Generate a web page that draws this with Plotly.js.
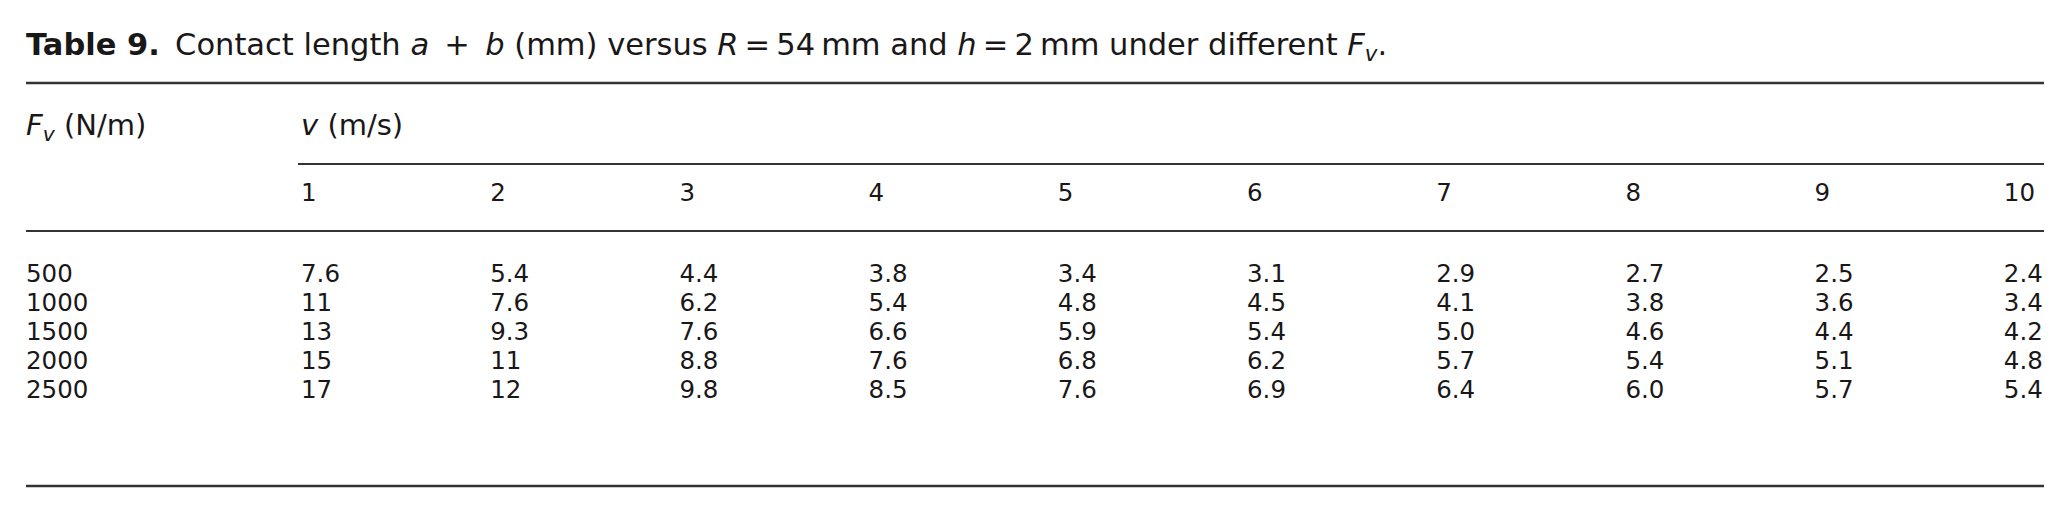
<!DOCTYPE html>
<html>
<head>
<meta charset="utf-8">
<script src="https://cdn.plot.ly/plotly-3.0.1.min.js"></script>
<style>
  html, body { margin: 0; padding: 0; background: #fff; }
  #table9 { width: 2070px; height: 512px; }
</style>
</head>
<body>
<div id="table9"></div>
<script>
// Table 9 data: contact length a + b (mm), rows = Fv (N/m), columns = v (m/s)
var speeds = [1, 2, 3, 4, 5, 6, 7, 8, 9, 10];
var forces = [500, 1000, 1500, 2000, 2500];
var len500 = ["7.6", "5.4", "4.4", "3.8", "3.4", "3.1", "2.9", "2.7", "2.5", "2.4"];
var len1000 = ["11", "7.6", "6.2", "5.4", "4.8", "4.5", "4.1", "3.8", "3.6", "3.4"];
var len1500 = ["13", "9.3", "7.6", "6.6", "5.9", "5.4", "5.0", "4.6", "4.4", "4.2"];
var len2000 = ["15", "11", "8.8", "7.6", "6.8", "6.2", "5.7", "5.4", "5.1", "4.8"];
var len2500 = ["17", "12", "9.8", "8.5", "7.6", "6.9", "6.4", "6.0", "5.7", "5.4"];
var rows = [len500, len1000, len1500, len2000, len2500];

// layout helpers (pixel space)
var W = 2070, H = 512;
var LEFT = 26, RIGHT = 2044;
function colX(i) { return 301 + 189.2 * i; }
function rowY(r) { return 276 + 29 * r; }
var HEAD_Y = 128, NUM_Y = 195;

var ink = "#1a1718";
var family = "'DejaVu Sans', Lato, sans-serif";
var bodyFont = { family: family, size: 24.5, color: ink };
var headFont = { family: family, size: 29, color: ink };
var titleFont = { family: family, size: 30.5, color: ink };

var traces = [];

function textTrace(xs, ys, txt, f) {
  return {
    type: "scatter", mode: "text", hoverinfo: "skip", showlegend: false,
    x: xs, y: ys, text: txt, textposition: "middle right", textfont: f
  };
}

// header row
traces.push(textTrace([LEFT, colX(0)], [HEAD_Y, HEAD_Y],
  ["<i>F<sub>v</sub></i> (N/m)", "<i>v</i> (m/s)"], headFont));

// speed labels
traces.push(textTrace(
  speeds.map(function(v, i) { return colX(i); }),
  speeds.map(function() { return NUM_Y; }),
  speeds.map(String), bodyFont));

// force column
traces.push(textTrace(
  forces.map(function() { return LEFT; }),
  forces.map(function(f, r) { return rowY(r); }),
  forces.map(String), bodyFont));

// value cells
rows.forEach(function(vals, r) {
  traces.push(textTrace(
    vals.map(function(v, i) { return colX(i); }),
    vals.map(function() { return rowY(r); }),
    vals, bodyFont));
});

function rule(x0, x1, y, w) {
  return { type: "line", xref: "x", yref: "y", x0: x0, x1: x1, y0: y, y1: y,
    line: { color: "#333333", width: w } };
}

var sp = "\u2002", thin = "\u2009";
var layout = {
  width: W, height: H,
  margin: { t: 0, b: 0, l: 0, r: 0 },
  paper_bgcolor: "#ffffff", plot_bgcolor: "#ffffff",
  xaxis: { range: [0, W], visible: false, fixedrange: true },
  yaxis: { range: [H, 0], visible: false, fixedrange: true },
  title: {
    text: "<b>Table 9.</b>" + sp + "Contact length <i>a</i>" + sp + "+" + sp + "<i>b</i> (mm) versus <i>R</i>" +
      thin + "=" + thin + "54" + thin + "mm and <i>h</i>" + thin + "=" + thin + "2" + thin +
      "mm under different <i>F<sub>v</sub></i>.",
    x: LEFT / W, xanchor: "left", xref: "paper",
    y: 1 - 44 / H, yanchor: "middle",
    font: titleFont
  },
  shapes: [
    rule(LEFT, RIGHT, 83, 2.5),
    rule(colX(0) - 3, RIGHT, 164, 2),
    rule(LEFT, RIGHT, 231, 2),
    rule(LEFT, RIGHT, 486, 2.5)
  ]
};

Plotly.newPlot("table9", traces, layout, { staticPlot: true, displayModeBar: false });
</script>
</body>
</html>
